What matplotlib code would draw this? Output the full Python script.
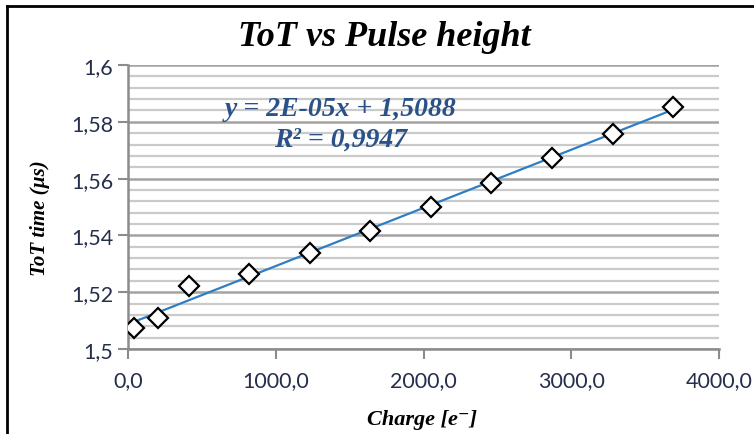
import matplotlib
matplotlib.use("Agg")
import matplotlib.pyplot as plt
import numpy as np
from matplotlib.lines import Line2D
from matplotlib.ticker import MultipleLocator, FuncFormatter

charge = [41, 205, 410, 820, 1230, 1640, 2050, 2460, 2870, 3280, 3690]
tot = [1.5074, 1.5109, 1.5222, 1.5264, 1.5338, 1.5415, 1.5500, 1.5585, 1.5673, 1.5757, 1.5852]
title = "ToT vs Pulse height"
xlabel = "Charge [e⁻]"
ylabel = "ToT time (µs)"
eq_text = "y = 2E-05x + 1,5088\nR² = 0,9947"

fig = plt.figure(figsize=(7.54, 4.35), dpi=100)
W, H = 754, 435
ax = fig.add_axes([128 / W, 1 - 350 / H, (719 - 128) / W, (350 - 66) / H])

ax.set_xlim(0, 4000)
ax.set_ylim(1.5, 1.6)
ax.yaxis.set_major_locator(MultipleLocator(0.02))
ax.yaxis.set_minor_locator(MultipleLocator(0.004))
ax.xaxis.set_major_locator(MultipleLocator(1000))

ax.grid(axis="y", which="minor", color="#cacaca", lw=1.6, zorder=0)
ax.grid(axis="y", which="major", color="#a3a3a3", lw=1.8, zorder=0)
ax.set_axisbelow(True)

for s in ["top", "right"]:
    ax.spines[s].set_visible(False)
for s in ["left", "bottom"]:
    ax.spines[s].set_color("#8c8c8c")
    ax.spines[s].set_linewidth(1.8)

ax.tick_params(axis="both", which="major", length=7, width=1.5, color="#8c8c8c",
               labelsize=15.5, labelcolor="#262f4a")
ax.tick_params(axis="y", which="minor", length=0)
ax.tick_params(axis="x", pad=8)

def fmt_y(v, p):
    s = f"{v:.2f}".rstrip("0").rstrip(".")
    return s.replace(".", ",")

ax.yaxis.set_major_formatter(FuncFormatter(fmt_y))
ax.xaxis.set_major_formatter(FuncFormatter(lambda v, p: f"{v:.1f}".replace(".", ",")))
for lab in ax.get_xticklabels() + ax.get_yticklabels():
    lab.set_family("Lato")

# trendline from linear fit
coef = np.polyfit(charge, tot, 1)
xs = np.array([min(charge), max(charge)])
ax.plot(xs, np.polyval(coef, xs), color="#2f7ec4", lw=1.6, zorder=2)

ax.plot(charge, tot, linestyle="none", marker="D", markersize=10,
        markerfacecolor="white", markeredgecolor="black", markeredgewidth=1.6, zorder=3)

ax.text(341 / W, 1 - 125 / H, eq_text, transform=fig.transFigure, ha="center", va="center",
        family="Liberation Serif", style="italic", weight="bold", fontsize=20,
        color="#2a5289", linespacing=1.28)

fig.text(384 / W, 1 - 38 / H, title, ha="center", va="center",
         family="Liberation Serif", style="italic", weight="bold", fontsize=26)
fig.text(422 / W, 1 - 420 / H, xlabel, ha="center", va="center",
         family=["Liberation Serif", "DejaVu Serif"], style="italic", weight="bold", fontsize=16)
fig.text(40 / W, 1 - 218 / H, ylabel, ha="center", va="center", rotation=90,
         family="Liberation Serif", style="italic", weight="bold", fontsize=15)

# outer chart border (left and top)
fig.add_artist(Line2D([7 / W, 7 / W], [0, 1 - 7 / H], color="black", lw=2, transform=fig.transFigure))
fig.add_artist(Line2D([7 / W, 1], [1 - 7 / H, 1 - 7 / H], color="black", lw=2, transform=fig.transFigure))

fig.savefig("out.png", dpi=100)
